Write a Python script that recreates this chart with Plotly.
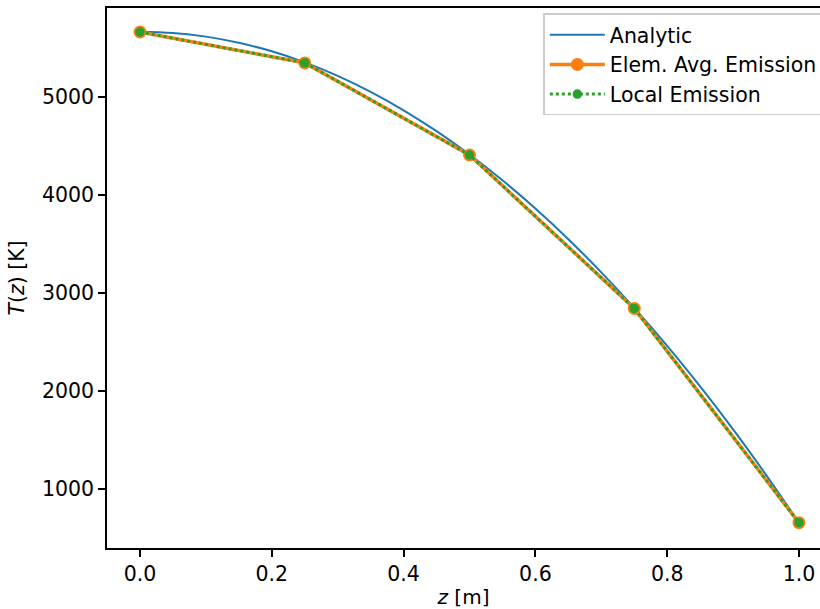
import plotly.graph_objects as go

# Analytic curve
z_analytic = [0.0, 0.05, 0.1, 0.15, 0.2, 0.25, 0.3, 0.35, 0.4, 0.45, 0.5,
              0.55, 0.6, 0.65, 0.7, 0.75, 0.8, 0.85, 0.9, 0.95, 1.0]
T_analytic = [5663, 5650, 5613, 5550, 5463, 5350, 5212, 5049, 4861, 4648, 4410,
              4147, 3859, 3546, 3208, 2845, 2457, 2043, 1605, 1141, 653]

# Discrete solutions
z_nodes = [0.0, 0.25, 0.5, 0.75, 1.0]
T_elem_avg = [5660, 5345, 4405, 2840, 653]
T_local = [5660, 5345, 4405, 2840, 653]

x_ticks = [0.0, 0.2, 0.4, 0.6, 0.8, 1.0]
y_ticks = [1000, 2000, 3000, 4000, 5000]

C0, C1, C2 = "#1f77b4", "#ff7f0e", "#2ca02c"
FONT = "DejaVu Sans"
FS = 20.5

fig = go.Figure()
fig.add_trace(go.Scatter(x=z_analytic, y=T_analytic, mode="lines", name="Analytic",
                         line=dict(color=C0, width=2, shape="spline")))
fig.add_trace(go.Scatter(x=z_nodes, y=T_elem_avg, mode="lines+markers",
                         name="Elem. Avg. Emission",
                         line=dict(color=C1, width=3.5),
                         marker=dict(color=C1, size=13, line=dict(width=0))))
fig.add_trace(go.Scatter(x=z_nodes, y=T_local, mode="lines+markers",
                         name="Local Emission",
                         line=dict(color=C2, width=3, dash="dot"),
                         marker=dict(color=C2, size=9.5, line=dict(width=0))))

fig.update_layout(
    width=820, height=609,
    margin=dict(l=107, r=0, t=8, b=61, autoexpand=False),
    paper_bgcolor="white", plot_bgcolor="white",
    font=dict(family=FONT, size=FS, color="black"),
    showlegend=True,
    legend=dict(x=0.612, y=0.99, xanchor="left", yanchor="top",
                bgcolor="rgba(255,255,255,0.8)", bordercolor="#cccccc", borderwidth=1.5,
                font=dict(family=FONT, size=FS), itemwidth=55, tracegroupgap=0),
)
fig.update_xaxes(range=[-0.0501, 1.0319], tickvals=x_ticks,
                 ticktext=[f"{v:.1f}" for v in x_ticks],
                 showgrid=False, zeroline=False, showline=True, linecolor="black",
                 linewidth=1.5, mirror=True, ticks="outside", ticklen=7, tickwidth=1.5,
                 tickcolor="black",
                 title=dict(text="<i>z</i> [m]", standoff=8,
                            font=dict(family=FONT, size=20)))
fig.update_yaxes(range=[395, 5905], tickvals=y_ticks,
                 showgrid=False, zeroline=False, showline=True, linecolor="black",
                 linewidth=1.5, ticks="outside", ticklen=7, tickwidth=1.5,
                 tickcolor="black",
                 title=dict(text="<i>T</i>(<i>z</i>) [K]", standoff=12,
                            font=dict(family=FONT, size=20.5)))

fig.write_html("out.html", config={"displayModeBar": False},
               post_script="document.body.style.margin='0';document.body.style.overflow='hidden';")
